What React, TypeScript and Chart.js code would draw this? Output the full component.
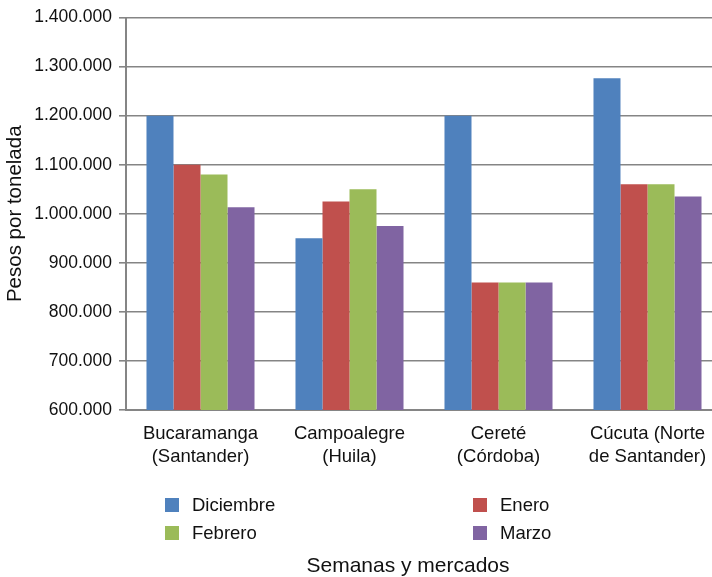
import React, { useEffect, useRef } from "react";
import { Chart, registerables } from "chart.js";

Chart.register(...registerables);

const categories: string[][] = [
  ["Bucaramanga", "(Santander)"],
  ["Campoalegre", "(Huila)"],
  ["Cereté", "(Córdoba)"],
  ["Cúcuta (Norte", "de Santander)"],
];
const seriesNames = ["Diciembre", "Enero", "Febrero", "Marzo"];
const diciembre = [1200000, 950000, 1200000, 1276000];
const enero = [1100000, 1025000, 860000, 1060000];
const febrero = [1080000, 1050000, 860000, 1060000];
const marzo = [1013000, 975000, 860000, 1035000];
const colors = ["#4F81BD", "#C0504D", "#9BBB59", "#8064A2"];
const yMin = 600000;
const yMax = 1400000;
const yStep = 100000;
const yTitle = "Pesos por tonelada";
const xTitle = "Semanas y mercados";

const FONT = "Arial, 'Liberation Sans', sans-serif";

function fmt(v: number): string {
  return String(Math.round(v)).replace(/\B(?=(\d{3})+(?!\d))/g, ".");
}

const legendPlugin = {
  id: "customLegend",
  afterDraw(chart: any) {
    const ctx = chart.ctx;
    ctx.save();
    const items = [
      { i: 0, x: 165, y: 498 },
      { i: 1, x: 473, y: 498 },
      { i: 2, x: 165, y: 526 },
      { i: 3, x: 473, y: 526 },
    ];
    ctx.font = `18.5px ${FONT}`;
    ctx.textBaseline = "middle";
    ctx.textAlign = "left";
    for (const it of items) {
      const ds = chart.data.datasets[it.i];
      ctx.fillStyle = ds.backgroundColor;
      ctx.fillRect(it.x, it.y, 14, 14);
      ctx.fillStyle = "#111";
      ctx.fillText(ds.label, it.x + 27, it.y + 7.5);
    }
    ctx.font = `21px ${FONT}`;
    ctx.textAlign = "center";
    ctx.fillStyle = "#111";
    ctx.fillText(xTitle, 408, 566);
    ctx.restore();
  },
};

export default function App() {
  const ref = useRef<HTMLCanvasElement | null>(null);
  useEffect(() => {
    if (!ref.current) return;
    const series = [diciembre, enero, febrero, marzo];
    const chart = new Chart(ref.current, {
      type: "bar",
      data: {
        labels: categories,
        datasets: series.map((d, i) => ({
          label: seriesNames[i],
          data: d,
          backgroundColor: colors[i],
          borderWidth: 0,
          categoryPercentage: 0.725,
          barPercentage: 1,
        })),
      },
      options: {
        responsive: false,
        animation: false,
        layout: { padding: { top: 16, right: 18, left: 0, bottom: 0 } },
        plugins: {
          legend: { display: false },
          tooltip: { enabled: false },
        },
        scales: {
          x: {
            grid: { display: false, drawTicks: false },
            border: { display: true, color: "#858585", width: 2 },
            ticks: {
              color: "#111",
              font: { size: 18.5, family: FONT, lineHeight: 1.24 },
              padding: 12,
              maxRotation: 0,
              autoSkip: false,
            },
            afterFit: (s: any) => {
              s.height = 167;
            },
          },
          y: {
            min: yMin,
            max: yMax,
            ticks: {
              stepSize: yStep,
              color: "#111",
              font: { size: 17.5, family: FONT },
              padding: 7,
              callback: (v: any) => fmt(Number(v)),
            },
            grid: { color: "#858585", lineWidth: 1.6, tickLength: 7 },
            border: { display: true, color: "#858585", width: 2 },
            title: {
              display: true,
              text: yTitle,
              color: "#111",
              font: { size: 20.5, family: FONT },
              padding: { top: 3, bottom: 0 },
            },
            afterFit: (s: any) => {
              s.width = 126;
            },
          },
        },
      },
      plugins: [legendPlugin],
    });
    return () => chart.destroy();
  }, []);
  return (
    <div
      style={{
        position: "absolute",
        left: 0,
        top: 0,
        width: 712,
        height: 577,
        overflow: "hidden",
        background: "#fff",
      }}
    >
      <canvas ref={ref} width={740} height={577} style={{ display: "block" }} />
    </div>
  );
}
